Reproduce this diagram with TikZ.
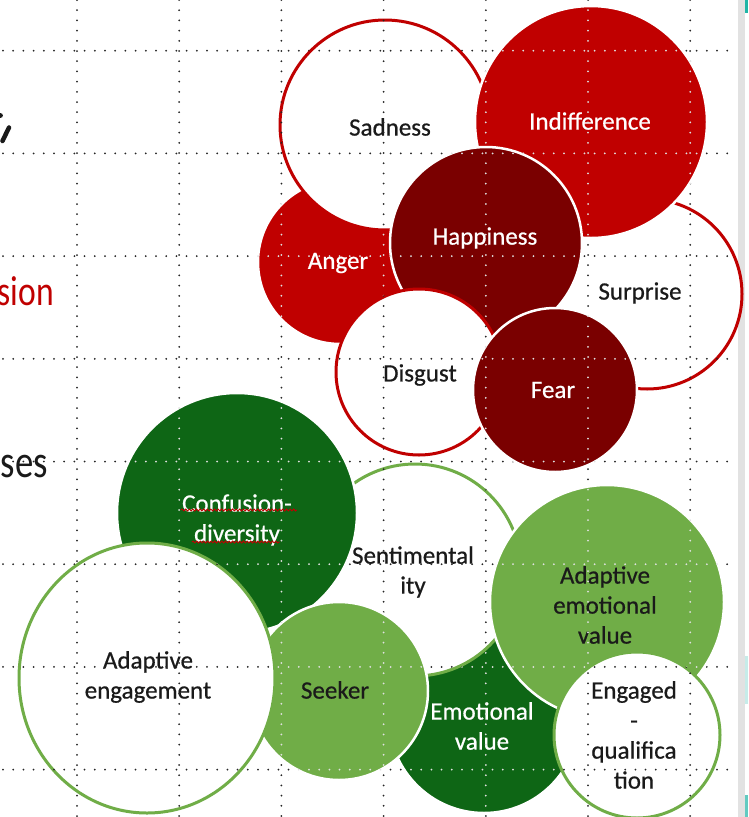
\documentclass[tikz,border=0pt]{standalone}
\usepackage{fontspec}
\usepackage{graphicx}
\setmainfont{Carlito}
\newfontfamily\lblfont{Carlito}[FakeBold=0.6]
\usetikzlibrary{shapes.geometric,decorations.pathmorphing}

\definecolor{cred}{HTML}{C00000}
\definecolor{cdred}{HTML}{7A0000}
\definecolor{cdgreen}{HTML}{0E6615}
\definecolor{clgreen}{HTML}{70AD47}
\definecolor{ctxt}{HTML}{1A1A1A}
\definecolor{cstrip}{HTML}{E2E2E2}
\definecolor{cteal}{HTML}{1FB5A6}

\newcommand{\gridpattern}[1]{%
  \foreach \gy in {50.7,153.4,256.1,358.8,461.5,564.2,666.9,769.6}
    {\draw[griddots,#1] (3,\gy) -- (736,\gy);}
  \foreach \gx in {77,179.2,281.4,383.6,485.8,588,690.2}
    {\draw[griddots,#1] (\gx,0) -- (\gx,817);}
}

% name, cx, cy, r, shape style, label position, label, label colour, dot style
\newcommand{\bubble}[9]{%
  \node[#5, minimum size={2*#4pt}] (#1) at (#2,#3) {};
  \node[lbl, text=#8] (#1-t) at (#6) {#7};
  \begin{scope}
    \clip (#2,#3) circle[radius=#4+1];
    \gridpattern{#9}
  \end{scope}
}

\begin{document}
\begin{tikzpicture}[x=1pt,y=-1pt,
  griddots/.style={line width=2pt, line cap=round, dash pattern=on 0pt off 10.2pt},
  darkdots/.style={black!85},
  lightdots/.style={white!88!black},
  lbl/.style={font=\lblfont\fontsize{25}{30}\selectfont, align=center, inner sep=0pt},
  whitered/.style={circle, inner sep=0pt, fill=white, draw=cred, line width=3pt},
  redfill/.style={circle, inner sep=0pt, fill=cred, draw=white, line width=2.5pt},
  dredfill/.style={circle, inner sep=0pt, fill=cdred, draw=white, line width=2.5pt},
  whitegreen/.style={circle, inner sep=0pt, fill=white, draw=clgreen, line width=3pt},
  lgreenfill/.style={circle, inner sep=0pt, fill=clgreen, draw=white, line width=2.5pt},
  dgreenfill/.style={circle, inner sep=0pt, fill=cdgreen, draw=white, line width=2.5pt},
  sidetext/.style={inner sep=0pt, anchor=base east}
]
\useasboundingbox (0,0) rectangle (748,817);
\fill[white] (0,0) rectangle (748,817);

% right edge strip
\fill[cstrip] (738,0) rectangle (745,817);
\fill[cteal] (745,0) rectangle (748,13);
\fill[cteal!25] (745,656) rectangle (748,704);
\fill[cteal!70] (745,795) rectangle (748,817);

% cut-off slide text on the left
\node[sidetext, text=cred] (tsion) at (54,305) {\scalebox{0.8}[1]{\fontsize{42}{42}\selectfont sion}};
\node[sidetext, text=ctxt] (tses) at (48,477) {\scalebox{0.8}[1]{\fontsize{46}{46}\selectfont ses}};
\fill[ctxt] (0.5,115.5) circle[radius=2.4];
\draw[ctxt, line width=4.5pt, line cap=round] (9,127.5) -- (2.5,141);

% background grid
\gridpattern{darkdots}

% red cluster
\bubble{surprise}{647}{294}{95}{whitered}{640,293}{Surprise}{ctxt}{darkdots}
\bubble{anger}{340}{262}{82}{redfill}{338,263}{Anger}{white}{lightdots}
\bubble{sadness}{385}{125}{105}{whitered}{390,127}{Sadness}{ctxt}{darkdots}
\bubble{indiff}{591}{122}{116}{redfill}{590,121}{Indifference}{white}{lightdots}
\bubble{happy}{486}{243}{96}{dredfill}{485,238}{Happiness}{white}{lightdots}
\bubble{disgust}{419}{372}{83}{whitered}{420,375}{Disgust}{ctxt}{darkdots}
\bubble{fear}{555}{390}{82}{dredfill}{553,390}{Fear}{white}{lightdots}

% green cluster
\bubble{emo}{484}{718}{95}{dgreenfill}{482,726}{Emotional\\value}{white}{lightdots}
\bubble{senti}{415}{570}{106}{whitegreen}{413,572}{Sentimental\\ity}{ctxt}{darkdots}
\bubble{conf}{237}{513}{120}{dgreenfill}{237,520}{Confusion-\\diversity}{white}{lightdots}
\draw[cred, line width=0.9pt, decorate, decoration={snake, segment length=3.6pt, amplitude=0.9pt}] (181,510) -- (297,510);
\draw[cred, line width=0.9pt, decorate, decoration={snake, segment length=3.6pt, amplitude=0.9pt}] (192,542) -- (280,542);
\bubble{seeker}{339}{691}{89}{lgreenfill}{335,690}{Seeker}{ctxt}{lightdots}

% adaptive engagement (ellipse)
\node[ellipse, inner sep=0pt, fill=white, draw=clgreen, line width=3pt,
      minimum width=256pt, minimum height=270pt] (adeng) at (147,678) {};
\node[lbl, text=ctxt] (adeng-t) at (148,677) {Adaptive\\engagement};
\begin{scope}
  \clip (147,678) ellipse[x radius=129, y radius=136];
  \gridpattern{darkdots}
\end{scope}

\bubble{aev}{607}{602}{117}{lgreenfill}{605,605}{Adaptive\\emotional\\value}{ctxt}{lightdots}
\bubble{engq}{637}{735}{83}{whitegreen}{634,735}{Engaged\\-\\qualifica\\tion}{ctxt}{darkdots}

\end{tikzpicture}
\end{document}
